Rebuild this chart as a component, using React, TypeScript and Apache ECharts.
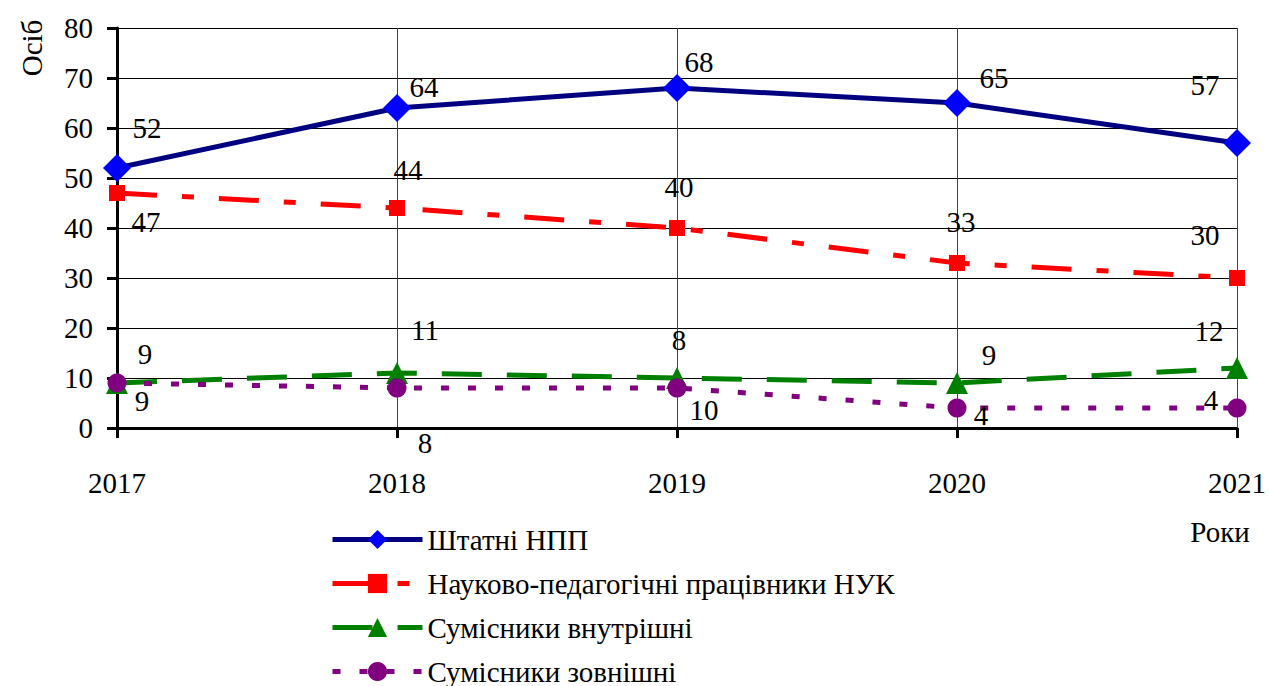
import React, { useEffect, useRef } from "react";
import * as echarts from "echarts";

const years = ["2017", "2018", "2019", "2020", "2021"];
const staffNames = [
  "Штатні НПП",
  "Науково-педагогічні працівники НУК",
  "Сумісники внутрішні",
  "Сумісники зовнішні",
];
const staff = [52, 64, 68, 65, 57];
const nuk = [47, 44, 40, 33, 30];
const internal = [9, 11, 10, 9, 12];
const external = [9, 8, 8, 4, 4];

// label offsets (style only)
const offStaff = [[30, -40], [27, -21], [22, -26], [37, -25], [-32, -58]];
const offNuk = [[29, 29], [11, -38], [2, -41], [4, -41], [-32, -43]];
const offInternal = [[25, 18], [28, -43], [27, 32], [32, -28], [-28, -37]];
const offExternal = [[28, -29], [28, 55], [2, -48], [24, 7], [-26, -8]];

const FONT = "Liberation Serif";
const FS = 29;

function withLabels(values: number[], offs: number[][]) {
  return values.map((v, i) => ({
    value: v,
    label: { offset: offs[i] },
  }));
}

const labelBase = {
  show: true,
  position: "inside" as const,
  formatter: "{t|{c}}",
  rich: { t: { fontFamily: FONT, fontSize: FS, color: "#000" } },
};

export default function App() {
  const ref = useRef<HTMLDivElement>(null);
  useEffect(() => {
    if (!ref.current) return;
    const chart = echarts.init(ref.current, null, { renderer: "svg" });
    chart.setOption({
      animation: false,
      backgroundColor: "#fff",
      textStyle: { fontFamily: FONT, fontSize: FS },
      grid: { left: 117, right: 31, top: 28, bottom: 258, containLabel: false },
      legend: {
        orient: "vertical",
        left: 330,
        top: 525,
        padding: 0,
        itemWidth: 90,
        itemHeight: 24,
        itemGap: 15,
        lineStyle: { width: 5 },
        textStyle: { fontFamily: FONT, fontSize: FS, color: "#000", lineHeight: 28 },
        data: staffNames,
      },
      xAxis: {
        type: "category",
        data: years,
        boundaryGap: false,
        axisLine: { lineStyle: { color: "#000", width: 3 } },
        axisTick: { show: true, length: 10, lineStyle: { color: "#000", width: 3 } },
        axisLabel: {
          margin: 40,
          color: "#000",
          formatter: "{t|{value}}",
          rich: { t: { fontFamily: FONT, fontSize: FS, color: "#000" } },
        },
        splitLine: { show: true, lineStyle: { color: "#444", width: 1 } },
      },
      yAxis: {
        type: "value",
        min: 0,
        max: 80,
        interval: 10,
        axisLine: { show: true, lineStyle: { color: "#000", width: 3 } },
        axisTick: { show: true, length: 10, lineStyle: { color: "#000", width: 3 } },
        axisLabel: { margin: 24, fontFamily: FONT, fontSize: FS, color: "#000" },
        splitLine: { show: true, lineStyle: { color: "#000", width: 1 } },
      },
      graphic: [
        {
          type: "text",
          x: 32,
          y: 48,
          rotation: Math.PI / 2,
          style: {
            text: "Осіб",
            fontFamily: FONT,
            fontSize: FS,
            fill: "#000",
            textAlign: "center",
            textVerticalAlign: "middle",
          },
        },
        {
          type: "text",
          x: 1220,
          y: 532,
          style: {
            text: "Роки",
            fontFamily: FONT,
            fontSize: FS,
            fill: "#000",
            textAlign: "center",
            textVerticalAlign: "middle",
          },
        },
      ],
      series: [
        {
          name: staffNames[0],
          type: "line",
          data: withLabels(staff, offStaff),
          symbol: "diamond",
          symbolSize: 28,
          lineStyle: { color: "#000080", width: 5 },
          itemStyle: { color: "#0000FF" },
          label: labelBase,
          z: 5,
        },
        {
          name: staffNames[1],
          type: "line",
          data: withLabels(nuk, offNuk),
          symbol: "rect",
          symbolSize: 16,
          lineStyle: { color: "#FF0000", width: 5, type: [40, 25, 12, 25] },
          itemStyle: { color: "#FF0000" },
          label: labelBase,
          z: 4,
        },
        {
          name: staffNames[2],
          type: "line",
          data: withLabels(internal, offInternal),
          symbol: "triangle",
          symbolSize: 22,
          lineStyle: { color: "#008000", width: 5, type: [40, 25] },
          itemStyle: { color: "#008000" },
          label: labelBase,
          z: 3,
        },
        {
          name: staffNames[3],
          type: "line",
          data: withLabels(external, offExternal),
          symbol: "circle",
          symbolSize: 19,
          lineStyle: { color: "#800080", width: 5, type: [8, 19] },
          itemStyle: { color: "#800080" },
          label: labelBase,
          z: 6,
        },
      ],
    });
    return () => chart.dispose();
  }, []);
  return (
    <div
      ref={ref}
      style={{ position: "absolute", left: 0, top: 0, width: 1269, height: 686 }}
    />
  );
}
